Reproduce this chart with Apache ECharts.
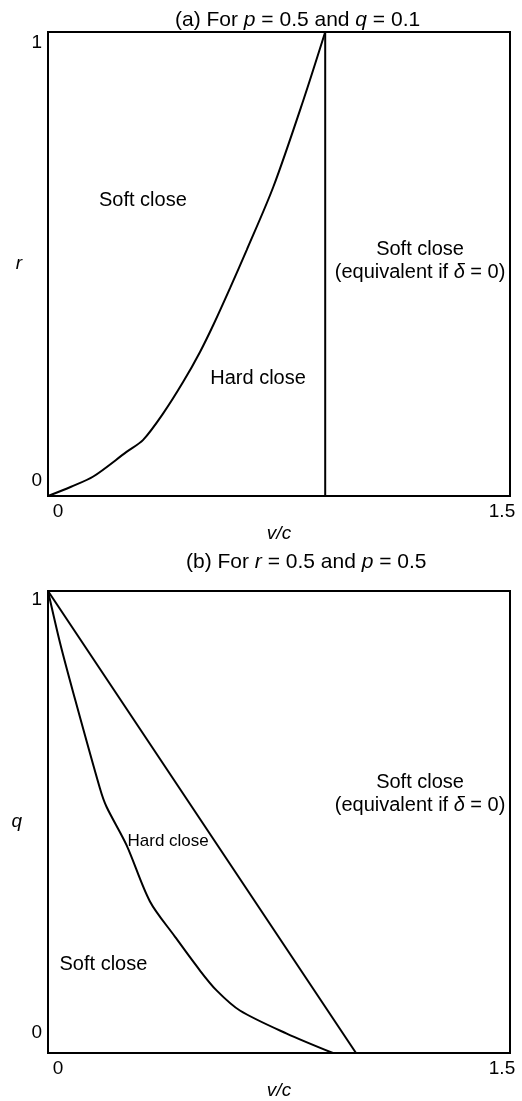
<!DOCTYPE html>
<html>
<head>
<meta charset="utf-8">
<script src="https://cdn.jsdelivr.net/npm/echarts@6/dist/echarts.min.js"></script>
<style>
    html, body { margin: 0; padding: 0; background: #fff; }
    #main { width: 522px; height: 1101px; }
</style>
</head>
<body>
<div id="main"></div>
<script>
// (a) 边界曲线 r(v/c)
var curveA_x = [0, 0.075, 0.147, 0.255, 0.309, 0.374, 0.439, 0.494, 0.537, 0.591, 0.645, 0.732, 0.829, 0.9];
var curveA_y = [0, 0.02, 0.042, 0.095, 0.121, 0.178, 0.246, 0.311, 0.369, 0.448, 0.53, 0.667, 0.853, 1];
var vlineA_x = [0.9, 0.9];
var vlineA_y = [0, 1];

// (b) 边界曲线 q(v/c)
var curveB_x = [0, 0.039, 0.082, 0.169, 0.19, 0.255, 0.331, 0.412, 0.494, 0.548, 0.623, 0.775, 0.925];
var curveB_y = [1, 0.888, 0.78, 0.572, 0.533, 0.45, 0.328, 0.252, 0.178, 0.135, 0.092, 0.042, 0];
var lineB_x = [0, 1];
var lineB_y = [1, 0];

var xTicks = [0, 1.5];
var yTicks = [0, 1];

function pairs(xs, ys) {
    return xs.map(function (x, i) { return [x, ys[i]]; });
}

var FONT = '"Liberation Sans", Arial, sans-serif';

var myChart = echarts.init(document.getElementById('main'));

function xAxisOf(idx) {
    return {
        type: 'value', gridIndex: idx, min: xTicks[0], max: xTicks[1], interval: 1.5,
        name: 'v/c', nameLocation: 'middle', nameGap: 28,
        nameTextStyle: { fontSize: 19, fontStyle: 'italic', color: '#000', fontFamily: FONT },
        axisLine: { show: false }, axisTick: { show: false }, splitLine: { show: false },
        axisLabel: {
            margin: 6, fontSize: 19, color: '#000', fontFamily: FONT,
            formatter: function (v) { return v === 0 ? '{l|0}' : '{r|1.5}'; },
            rich: {
                l: { fontSize: 19, padding: [0, 0, 0, 20], fontFamily: FONT },
                r: { fontSize: 19, padding: [0, 16, 0, 0], fontFamily: FONT }
            }
        }
    };
}

function yAxisOf(idx, name, topPad, botPad) {
    return {
        type: 'value', gridIndex: idx, min: yTicks[0], max: yTicks[1], interval: 1,
        name: name, nameLocation: 'middle', nameGap: 26, nameRotate: 0,
        nameTextStyle: { fontSize: 19, fontStyle: 'italic', color: '#000', fontFamily: FONT },
        axisLine: { show: false }, axisTick: { show: false }, splitLine: { show: false },
        axisLabel: {
            margin: 6, fontSize: 19, color: '#000', fontFamily: FONT,
            formatter: function (v) { return v === 1 ? '{t|1}' : '{b|0}'; },
            rich: {
                t: { fontSize: 19, padding: [topPad, 0, 0, 0], fontFamily: FONT },
                b: { fontSize: 19, padding: [0, 0, botPad, 0], fontFamily: FONT }
            }
        }
    };
}

function lineSeries(idx, data, smooth) {
    return {
        type: 'line', xAxisIndex: idx, yAxisIndex: idx, data: data,
        showSymbol: false, smooth: smooth, silent: true,
        lineStyle: { color: '#000', width: 2 }
    };
}

var richText = {
    i: { fontStyle: 'italic', fontSize: 20, fontFamily: FONT, color: '#000' },
    ti: { fontStyle: 'italic', fontSize: 21, fontFamily: FONT, color: '#000' },
    s: { fontSize: 17, fontFamily: FONT, color: '#000' }
};

function textSeries(idx, items) {
    return {
        type: 'scatter', xAxisIndex: idx, yAxisIndex: idx, symbolSize: 0, silent: true,
        itemStyle: { opacity: 1 },
        data: items.map(function (t) { return { value: t.at, name: t.text }; }),
        label: {
            show: true, position: 'inside', formatter: '{b}', color: '#000', opacity: 1,
            textBorderWidth: 0, fontSize: 20, fontFamily: FONT, lineHeight: 23, align: 'center',
            rich: richText
        }
    };
}

var option = {
    animation: false,
    backgroundColor: '#fff',
    textStyle: { fontFamily: FONT },
    title: [{
        text: '(a) For {ti|p} = 0.5 and {ti|q} = 0.1',
        left: 170, top: 5,
        textStyle: { fontSize: 21, fontWeight: 'normal', color: '#000', fontFamily: FONT, rich: richText }
    }, {
        text: '(b) For {ti|r} = 0.5 and {ti|p} = 0.5',
        left: 181, top: 547,
        textStyle: { fontSize: 21, fontWeight: 'normal', color: '#000', fontFamily: FONT, rich: richText }
    }],
    grid: [
        { left: 48, top: 32, width: 462, height: 464, show: true, borderColor: '#000', borderWidth: 2 },
        { left: 48, top: 591, width: 462, height: 465, show: true, borderColor: '#000', borderWidth: 2 }
    ],
    xAxis: [xAxisOf(0), xAxisOf(1)],
    yAxis: [yAxisOf(0, 'r', 22, 30), yAxisOf(1, 'q', 18, 40)],
    series: [
        lineSeries(0, pairs(curveA_x, curveA_y), 0.3),
        lineSeries(0, pairs(vlineA_x, vlineA_y), false),
        lineSeries(1, pairs(curveB_x, curveB_y), 0.3),
        lineSeries(1, pairs(lineB_x, lineB_y), false),
        textSeries(0, [
            { text: 'Soft close', at: [0.308, 0.636] },
            { text: 'Hard close', at: [0.682, 0.254] },
            { text: 'Soft close\n(equivalent if {i|δ} = 0)', at: [1.208, 0.507] }
        ]),
        textSeries(1, [
            { text: 'Soft close\n(equivalent if {i|δ} = 0)', at: [1.208, 0.561] },
            { text: '{s|Hard close}', at: [0.39, 0.458] },
            { text: 'Soft close', at: [0.18, 0.191] }
        ])
    ]
};

myChart.setOption(option);
</script>
</body>
</html>
